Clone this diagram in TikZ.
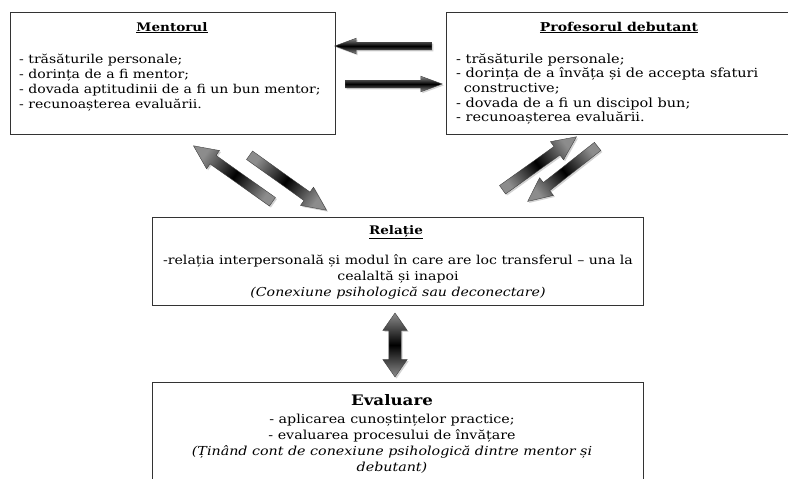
\documentclass[tikz,border=0pt]{standalone}
\usepackage{fontspec}
\setmainfont[FakeStretch=1.15]{DejaVu Serif}
\usetikzlibrary{shapes.arrows,shadows,calc}
\tikzset{
  box/.style={draw=black!80, line width=1pt, fill=white, inner sep=0pt},
  txt/.style={inner sep=0pt, font=\fontsize{12.2}{15}\selectfont},
  ttl/.style={inner sep=0pt, font=\fontsize{11.8}{14}\selectfont\bfseries},
  arrlook/.style={draw=black!75, line width=0.4pt,
    drop shadow={shadow xshift=1.5pt, shadow yshift=-1.5pt, opacity=0.35}},
}
% #1 start, #2 end, #3 half shaft width, #4 head extend, #5 name, #6 shape, #7 shading offset, #8 tip angle
\newcommand\blkarrow[8]{%
  \path let \p1=($(#2)-(#1)$), \n1={atan2(\y1,\x1)}, \n2={veclen(\x1,\y1)} in
    node[name=#5, shape=#6, arrlook, rotate=\n1, minimum height=\n2,
      inner xsep=0pt, inner ysep=#3, single arrow head extend=#4,
      double arrow head extend=#4, single arrow tip angle=#8, double arrow tip angle=#8,
      shading=axis, top color=black!45, bottom color=black!45, middle color=black,
      shading angle=\n1+#7]
      at ($(#1)!0.5!(#2)$) {};}
\begin{document}
\begin{tikzpicture}[x=1pt,y=-1pt]
\useasboundingbox (0,0) rectangle (788,479);
\fill[white] (0,0) rectangle (788,479);

% boxes
\draw[box] (10,12) rectangle (335,134);
\draw[box] (446,12) rectangle (793,134);
\draw[box] (152,217) rectangle (643,305);
\draw[box] (152,382) rectangle (643,500);

% Mentorul
\node[ttl, anchor=base] (mt) at (172,31) {\underline{Mentorul}};
\node[txt, anchor=base west, align=left] (mb) at (19,108) {%
- trăsăturile personale;\\
- dorința de a fi mentor;\\
- dovada aptitudinii de a fi un bun mentor;\\
- recunoașterea evaluării.};

% Profesorul
\node[ttl, anchor=base, font=\fontsize{12.2}{14}\selectfont\bfseries] (pt) at (619,31) {\underline{Profesorul debutant}};
\node[txt, anchor=base west, align=left, font=\fontsize{12.6}{14.7}\selectfont] (pb) at (456,121.8) {%
- trăsăturile personale;\\
- dorința de a învăța și de accepta sfaturi\\
\hspace*{0.6em}constructive;\\
- dovada de a fi un discipol bun;\\
- recunoașterea evaluării.};

% Relatie
\node[ttl, anchor=base] (rt) at (396,234) {\underline{Relație}};
\node[txt, anchor=base, align=center, font=\fontsize{12.3}{16}\selectfont] (rb) at (398,296) {%
-relația interpersonală și modul în care are loc transferul – una la\\
cealaltă și inapoi\\
\textit{(Conexiune psihologică sau deconectare)}};

% Evaluare
\node[ttl, anchor=base, font=\fontsize{14.5}{16}\selectfont\bfseries] (et) at (392,405) {Evaluare};
\node[txt, anchor=base, align=center, font=\fontsize{12.4}{16}\selectfont] (eb) at (392,471) {%
- aplicarea cunoștințelor practice;\\
- evaluarea procesului de învățare\\
\textit{(Ținând cont de conexiune psihologică dintre mentor și}\\
\textit{debutant)}};

% arrow end points
\coordinate (h1s) at (437,46);  \coordinate (h1e) at (340,46);
\coordinate (h2s) at (340,84);  \coordinate (h2e) at (437,84);
\coordinate (d1s) at (277,205); \coordinate (d1e) at (198,149);
\coordinate (d2s) at (245,152); \coordinate (d2e) at (322,207);
\coordinate (d3s) at (498,193); \coordinate (d3e) at (572,140);
\coordinate (d4s) at (602,143); \coordinate (d4e) at (532,198);
\coordinate (vs) at (395,377);  \coordinate (ve) at (395,313);

\blkarrow{h1s}{h1e}{3.6pt}{4pt}{ah1}{single arrow}{0}{40}
\blkarrow{h2s}{h2e}{3.6pt}{4pt}{ah2}{single arrow}{0}{40}
\blkarrow{d1s}{d1e}{5pt}{6pt}{ad1}{single arrow}{90}{50}
\blkarrow{d2s}{d2e}{5pt}{6pt}{ad2}{single arrow}{90}{50}
\blkarrow{d3s}{d3e}{5pt}{6pt}{ad3}{single arrow}{90}{50}
\blkarrow{d4s}{d4e}{5pt}{6pt}{ad4}{single arrow}{90}{50}
\blkarrow{vs}{ve}{6pt}{6pt}{av}{double arrow}{90}{70}
\end{tikzpicture}
\end{document}
